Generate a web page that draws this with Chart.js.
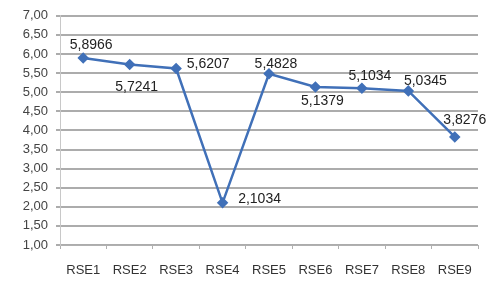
<!DOCTYPE html>
<html>
<head>
<meta charset="utf-8">
<script src="https://cdn.jsdelivr.net/npm/chart.js@4"></script>
<style>
  html, body { margin: 0; padding: 0; background: #fff; }
  canvas { display: block; }
</style>
</head>
<body>
<canvas id="rseChart" width="492" height="282"></canvas>
<script>
const categories = ["RSE1", "RSE2", "RSE3", "RSE4", "RSE5", "RSE6", "RSE7", "RSE8", "RSE9"];
const values = [5.8966, 5.7241, 5.6207, 2.1034, 5.4828, 5.1379, 5.1034, 5.0345, 3.8276];
const yMin = 1.0;
const yMax = 7.0;
const yStep = 0.5;

// where each value label sits relative to its point (dx, dy in px)
const labelOffsets = [[8, -13], [7, 23], [32, -4], [37, -4], [7, -10], [7, 14], [8, -12], [17, -10], [10, -17]];

const comma = (v, d) => v.toFixed(d).replace(".", ",");

const valueLabels = {
  id: "valueLabels",
  afterDatasetsDraw(chart) {
    const ctx = chart.ctx;
    const meta = chart.getDatasetMeta(0);
    ctx.save();
    ctx.font = "14px 'Liberation Sans', Arial, sans-serif";
    ctx.fillStyle = "#222";
    ctx.textAlign = "center";
    ctx.textBaseline = "middle";
    meta.data.forEach(function (pt, i) {
      const off = labelOffsets[i];
      ctx.fillText(comma(values[i], 4), pt.x + off[0], pt.y + off[1]);
    });
    ctx.restore();
  },
};

document.addEventListener("DOMContentLoaded", function () {
  const ctx = document.getElementById("rseChart").getContext("2d");

  new Chart(ctx, {
    type: "line",
    data: {
      labels: categories,
      datasets: [
        {
          data: values,
          borderColor: "#4070b8",
          backgroundColor: "#4070b8",
          borderWidth: 2.5,
          pointStyle: "rectRot",
          pointRadius: 4,
          tension: 0,
          fill: false,
        },
      ],
    },
    options: {
      responsive: false,
      animation: false,
      layout: { padding: { top: 12, right: 14, bottom: 0, left: 0 } },
      plugins: {
        legend: { display: false },
        tooltip: { enabled: false },
      },
      scales: {
        x: {
          offset: true,
          grid: {
            offset: true,
            drawOnChartArea: false,
            drawTicks: true,
            tickLength: 4,
            color: "#b0b0b0",
          },
          border: { color: "#b0b0b0", width: 1 },
          ticks: {
            color: "#333",
            font: { family: "'Liberation Sans', Arial, sans-serif", size: 13 },
            padding: 14,
          },
          afterFit(scale) { scale.height = 37; },
        },
        y: {
          min: yMin,
          max: yMax,
          ticks: {
            stepSize: yStep,
            color: "#444",
            font: { family: "'Liberation Sans', Arial, sans-serif", size: 13 },
            padding: 8,
            callback: (v) => comma(v, 2),
          },
          grid: { color: "#acacac", lineWidth: 2, tickLength: 4 },
          border: { color: "#c8c8c8", width: 1 },
          afterFit(scale) { scale.width = 60; },
        },
      },
    },
    plugins: [valueLabels],
  });
});
</script>
</body>
</html>
